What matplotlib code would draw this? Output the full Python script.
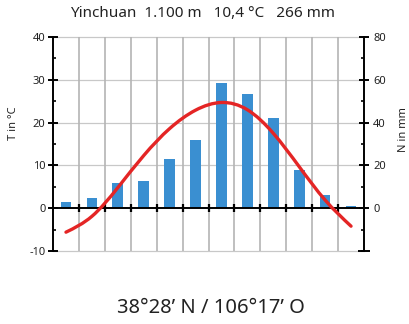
import matplotlib.pyplot as plt
import numpy as np
from matplotlib.path import Path
from matplotlib.patches import PathPatch
from matplotlib.ticker import MultipleLocator

plt.rcParams['font.family'] = ['Noto Sans', 'DejaVu Sans']
plt.rcParams['axes.unicode_minus'] = False

# climate data, Yinchuan
months = ['J', 'F', 'M', 'A', 'M', 'J', 'J', 'A', 'S', 'O', 'N', 'D']
temp = [-5.6, -1.9, 4.8, 12.3, 18.6, 22.9, 24.7, 23.0, 17.5, 9.7, 1.9, -4.2]
precip = [2.8, 4.8, 11.8, 12.8, 23.0, 32.0, 58.5, 53.2, 42.0, 18.0, 6.0, 1.0]

title = "Yinchuan  1.100 m   10,4 °C   266 mm"
coords = "38°28’ N / 106°17’ O"

bar_color = '#3a8fd1'
line_color = '#e42525'
grid_color = '#c8c8c8'


def smooth_path(xs, ys):
    # natural cubic spline through the points, drawn as bezier segments
    xs = np.asarray(xs, float)
    ys = np.asarray(ys, float)
    n = len(xs)
    h = np.diff(xs)
    A = np.zeros((n, n))
    b = np.zeros(n)
    A[0, 0] = A[-1, -1] = 1
    for i in range(1, n - 1):
        A[i, i - 1] = h[i - 1]
        A[i, i] = 2 * (h[i - 1] + h[i])
        A[i, i + 1] = h[i]
        b[i] = 6 * ((ys[i + 1] - ys[i]) / h[i] - (ys[i] - ys[i - 1]) / h[i - 1])
    M = np.linalg.solve(A, b)
    slope = np.zeros(n)
    slope[:-1] = np.diff(ys) / h - h * (2 * M[:-1] + M[1:]) / 6
    slope[-1] = (ys[-1] - ys[-2]) / h[-1] + h[-1] * (M[-2] + 2 * M[-1]) / 6
    verts = [(xs[0], ys[0])]
    codes = [Path.MOVETO]
    for i in range(n - 1):
        d = h[i] / 3
        verts += [(xs[i] + d, ys[i] + d * slope[i]),
                  (xs[i + 1] - d, ys[i + 1] - d * slope[i + 1]),
                  (xs[i + 1], ys[i + 1])]
        codes += [Path.CURVE4] * 3
    return Path(verts, codes)


fig = plt.figure(figsize=(4.1, 3.24), dpi=100)
ax2 = fig.add_axes([0.1293, 0.2253, 0.7585, 0.6605])
ax = ax2.twinx()
ax.set_zorder(ax2.get_zorder() + 1)
ax.patch.set_visible(False)

x = np.arange(len(months)) + 0.5

# precipitation (right scale) drawn under the temperature axis
ax2.bar(x, precip, width=0.41, color=bar_color, zorder=3)
ax2.set_ylim(-20, 80)
ax2.set_xlim(0, 12)
for yy in [-20, 20, 40, 60, 80]:
    ax2.axhline(yy, color=grid_color, lw=0.9, zorder=1, clip_on=False)
for xx in range(1, 12):
    ax2.axvline(xx, color='#b4b4b4', lw=1.2, zorder=1)

# temperature
ax.add_patch(PathPatch(smooth_path(x, temp), fill=False, ec=line_color, lw=2.4,
                       capstyle='round', zorder=5))
ax.set_ylim(-10, 40)
ax.axhline(0, color='black', lw=1.4, zorder=4)
ax.plot(np.arange(1, 12), np.zeros(11), ls='none', marker='|', ms=6, mew=1.6,
        color='black', zorder=4)

# temperature is the twin, so swap sides
ax.yaxis.tick_left()
ax.yaxis.set_label_position('left')
ax2.yaxis.tick_right()

for a in (ax, ax2):
    for s in a.spines.values():
        s.set_visible(False)

ax.spines['left'].set_visible(True)
ax.spines['left'].set_linewidth(1.4)
ax2.spines['right'].set_visible(True)
ax2.spines['right'].set_linewidth(1.4)

ax.yaxis.set_major_locator(MultipleLocator(10))
ax.yaxis.set_minor_locator(MultipleLocator(5))
ax2.yaxis.set_minor_locator(MultipleLocator(10))
ax2.set_yticks([0, 20, 40, 60, 80])

ax.tick_params(axis='y', which='major', direction='inout', length=7, width=1.4,
               labelsize=8, pad=2, labelcolor='#222222')
ax.tick_params(axis='y', which='minor', direction='in', length=2.5, width=1.2)
ax2.tick_params(axis='y', which='major', direction='inout', length=7, width=1.4,
                labelsize=8, pad=3, labelcolor='#222222')
ax2.tick_params(axis='y', which='minor', direction='in', length=2.5, width=1.2)

ax2.set_xticks(x)
ax2.set_xticklabels(months)
ax2.tick_params(axis='x', length=0, labelsize=8, pad=9, labelcolor='#222222')
ax.set_xticks([])

# the lower end of the right axis
ax2.plot([12], [-20], marker='_', ms=8, mew=1.4, color='black', clip_on=False,
         zorder=6)

fig.text(0.495, 0.957, title, ha='center', va='center', fontsize=11, color='#222222')
fig.text(0.032, 0.62, 'T in °C', rotation=90, ha='center', va='center', fontsize=8,
         color='#222222')
fig.text(0.984, 0.60, 'N in mm', rotation=90, ha='center', va='center', fontsize=8,
         color='#222222')
fig.text(0.515, 0.05, coords, ha='center', va='center', fontsize=14.5, color='#222222')

fig.savefig('out.png', dpi=100)
